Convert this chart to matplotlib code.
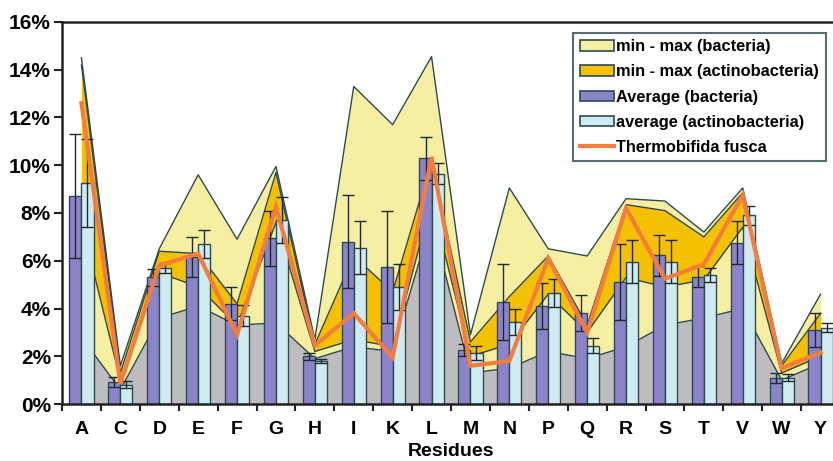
import numpy as np
import matplotlib.pyplot as plt
from matplotlib.patches import Patch
from matplotlib.lines import Line2D

plt.rcParams['font.family'] = ['Liberation Sans', 'DejaVu Sans']
plt.rcParams['font.weight'] = 'bold'

# residues and composition (%)
residues = list("ACDEFGHIKLMNPQRSTVWY")
max_bact = [14.5, 1.6, 6.5, 9.6, 6.9, 9.95, 2.7, 13.3, 11.7, 14.55, 2.9, 9.05, 6.5, 6.2, 8.6, 8.5, 7.2, 9.05, 1.7, 4.6]
max_actino = [14.2, 1.3, 6.4, 6.3, 4.2, 9.7, 2.5, 6.2, 4.7, 10.2, 2.6, 4.5, 6.2, 3.3, 8.35, 8.1, 7.0, 8.85, 1.6, 3.8]
min_actino = [7.6, 1.0, 5.5, 4.9, 3.3, 7.6, 2.2, 2.7, 2.4, 8.5, 2.0, 2.5, 4.6, 3.0, 5.3, 4.9, 5.2, 7.4, 1.3, 2.0]
min_bact = [2.8, 0.6, 3.6, 4.1, 3.3, 3.4, 1.9, 2.4, 2.2, 7.7, 1.3, 1.5, 2.2, 1.9, 2.4, 3.3, 3.6, 4.0, 1.0, 1.7]

avg_bact = [8.7, 0.92, 5.3, 6.15, 4.2, 6.95, 2.0, 6.8, 5.75, 10.3, 2.26, 4.28, 4.1, 3.8, 5.12, 6.23, 5.33, 6.75, 1.1, 3.1]
err_bact = [2.6, 0.2, 0.35, 0.85, 0.7, 1.15, 0.15, 1.95, 2.35, 0.9, 0.25, 1.6, 0.95, 0.75, 1.6, 0.85, 0.45, 0.9, 0.2, 0.7]
avg_actino = [9.25, 0.8, 5.7, 6.7, 3.7, 7.7, 1.8, 6.55, 4.9, 9.65, 2.15, 3.45, 4.65, 2.45, 5.95, 5.95, 5.4, 7.9, 1.1, 3.2]
err_actino = [1.85, 0.15, 0.2, 0.6, 0.45, 0.95, 0.1, 1.1, 0.95, 0.45, 0.3, 0.55, 0.6, 0.3, 0.9, 0.9, 0.3, 0.4, 0.15, 0.2]
t_fusca = [12.6, 0.85, 5.8, 6.3, 2.9, 8.25, 2.45, 3.8, 1.95, 10.35, 1.6, 1.8, 6.1, 3.0, 8.2, 5.25, 5.85, 8.75, 1.5, 2.15]

pale = '#F6EFA2'
gold = '#F5C000'
grey = '#BEBCBE'
purple = '#8C84CA'
cyan = '#CFEBF1'
orange = '#F47C3C'
edge = '#2C4A50'

x = np.arange(len(residues))

fig = plt.figure(figsize=(8.33, 4.61), dpi=100)
ax = fig.add_axes([62/833, 57/461, 778/833, 382/461])

# min-max bands: each area drawn from zero, later ones on top
for vals, col in [(max_bact, pale), (max_actino, gold), (min_actino, pale), (min_bact, grey)]:
    ax.fill_between(x, 0, vals, color=col, lw=0, zorder=1)
    ax.plot(x, vals, color=edge, lw=1.0, zorder=1.5)

w = 0.31
ax.bar(x - w/2, avg_bact, w, color=purple, edgecolor=edge, lw=1.0, zorder=2)
ax.bar(x + w/2, avg_actino, w, color=cyan, edgecolor=edge, lw=1.0, zorder=2)
ax.errorbar(x - w/2, avg_bact, yerr=err_bact, fmt='none', ecolor='#1E2A30',
            elinewidth=1.0, capsize=4, capthick=1.0, zorder=3)
ax.errorbar(x + w/2, avg_actino, yerr=err_actino, fmt='none', ecolor='#1E2A30',
            elinewidth=1.0, capsize=4, capthick=1.0, zorder=3)

ax.plot(x, t_fusca, color=orange, lw=3, zorder=4, solid_joinstyle='miter')

ax.set_xlim(-0.5, len(residues) - 0.5)
ax.set_ylim(0, 16)
ax.set_yticks(np.arange(0, 17, 2))
ax.set_yticklabels([f'{v}%' for v in range(0, 17, 2)], fontsize=15, fontweight='bold')
ax.set_xticks(np.arange(-0.5, len(residues), 1))
ax.set_xticklabels([])
ax.set_xticks(x, minor=True)
ax.set_xticklabels(residues, minor=True, fontsize=14, fontweight='bold')
ax.tick_params(axis='x', which='major', direction='out', length=5, width=1.5, color='#222222')
ax.tick_params(axis='x', which='minor', length=0, pad=12)
ax.tick_params(axis='y', direction='out', length=6, width=1.5, color='#222222', pad=2)
ax.set_xlabel('Residues', fontsize=14, fontweight='bold', labelpad=4)

for s in ['left', 'bottom', 'top']:
    ax.spines[s].set_linewidth(1.8)
    ax.spines[s].set_color('#222222')
ax.spines['right'].set_visible(False)

handles = [
    Patch(facecolor=pale, edgecolor=edge, lw=1.2),
    Patch(facecolor=gold, edgecolor=edge, lw=1.2),
    Patch(facecolor=purple, edgecolor=edge, lw=1.2),
    Patch(facecolor=cyan, edgecolor=edge, lw=1.2),
    Line2D([], [], color=orange, lw=3),
]
labels = ['min - max (bacteria)', 'min - max (actinobacteria)', 'Average (bacteria)',
          'average (actinobacteria)', 'Thermobifida fusca']
leg = ax.legend(handles, labels, loc='upper left', bbox_to_anchor=((573 - 62) / 778, 0.972),
                prop={'size': 11.8, 'weight': 'bold'}, frameon=True, fancybox=False,
                edgecolor=edge, handlelength=2.1, handleheight=0.6, handletextpad=0.15,
                labelspacing=0.62, borderpad=0.4, borderaxespad=0)
leg.get_frame().set_linewidth(1.5)

fig.savefig('out.png', dpi=100)
